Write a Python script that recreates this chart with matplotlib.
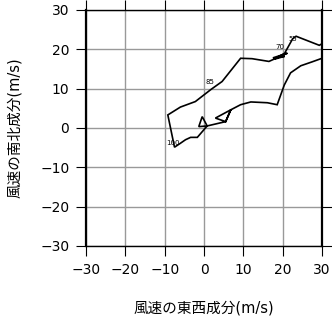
import numpy as np
import matplotlib
matplotlib.use("Agg")
import matplotlib.pyplot as plt

plt.rcParams['font.family'] = ['DejaVu Sans', 'Noto Sans CJK JP']
plt.rcParams['axes.unicode_minus'] = True

# hodograph trace (u, v) in m/s
u = [30.0, 27.5, 24.6, 22.0, 20.4, 18.6, 16.1, 11.9, 9.3, 6.8, 2.9, 5.5, 6.8,
     5.5, 0.8, -0.46, -1.33, 0.8, -1.7, -3.4, -4.7, -6.0, -7.5, -9.2, -6.0,
     -2.2, 1.8, 4.6, 9.3, 12.2, 16.5, 21.2, 17.5, 20.5, 18.0, 20.5, 22.5,
     23.4, 29.3, 30.0]
v = [17.7, 16.8, 15.8, 14.0, 10.9, 5.9, 6.4, 6.6, 5.9, 4.6, 2.5, 1.6, 4.6,
     1.6, 0.5, 2.87, 0.33, 0.5, -2.4, -2.4, -3.0, -3.9, -4.9, 3.3, 5.3,
     6.7, 9.8, 11.8, 17.7, 17.6, 16.9, 19.0, 17.8, 18.2, 17.5, 19.0, 22.6,
     23.3, 21.0, 21.4]

# time labels along the trace
lab_text = ["100", "85", "70", "55"]
lab_u = [-8.0, 1.4, 19.3, 22.6]
lab_v = [-3.8, 11.7, 20.6, 22.6]

ticks = [-30, -20, -10, 0, 10, 20, 30]

fig = plt.figure(figsize=(3.32, 3.19), dpi=100)
ax = fig.add_axes([0.259, 0.229, 0.711, 0.740])

ax.plot(u, v, color="black", lw=1.2, solid_joinstyle="miter", zorder=3)
for t, x, y in zip(lab_text, lab_u, lab_v):
    ax.text(x, y, t, fontsize=5, ha="center", va="center", zorder=4)

ax.set_xlim(-30, 30)
ax.set_ylim(-30, 30)
ax.set_xticks(ticks)
ax.set_yticks(ticks)
ax.grid(True, color="#999999", lw=1.0)
ax.set_axisbelow(True)

ax.tick_params(direction="out", length=7, width=0.8, labelsize=10,
               top=True, right=True, labeltop=False, labelright=False, pad=5)
ax.spines["left"].set_linewidth(1.6)
ax.spines["right"].set_linewidth(1.6)
ax.spines["top"].set_linewidth(1.0)
ax.spines["bottom"].set_linewidth(1.0)

ax.set_xlabel("風速の東西成分(m/s)", fontsize=10.5, labelpad=17)
ax.set_ylabel("風速の南北成分(m/s)", fontsize=10.5, labelpad=13)

fig.savefig("out.png", dpi=100)
